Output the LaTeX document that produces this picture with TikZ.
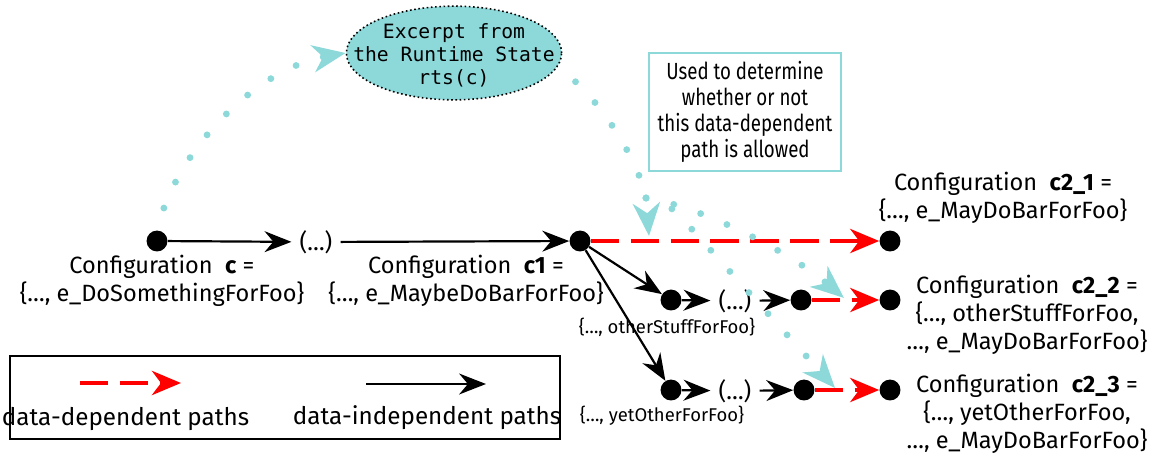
\documentclass[tikz,border=0pt]{standalone}
\usepackage{fontspec}
\setmainfont{Fira Sans}
\newfontfamily\monofont{DejaVu Sans Mono}
\newfontfamily\condfont[FakeStretch=0.8]{Fira Sans}
\usetikzlibrary{arrows.meta,shapes.geometric}
\definecolor{tealc}{RGB}{141,217,218}
\begin{document}
\begin{tikzpicture}[x=0.02cm,y=-0.02cm,
  dotnode/.style={circle,fill=black,inner sep=0pt,minimum size=11.9pt},
  midtext/.style={inner sep=4.5pt,font=\fontsize{13.4pt}{15.9pt}\selectfont},
  lbl/.style={align=center,inner sep=0pt,font=\fontsize{13.4pt}{15.9pt}\selectfont},
  smalllbl/.style={inner sep=0pt,font=\fontsize{10.5pt}{12pt}\selectfont},
  blk/.style={line width=1.25pt,-{Stealth[length=15.3pt,width=11.9pt,inset=5pt]}},
  reddash/.style={red,line width=2.83pt,dash pattern=on 16.2pt off 6.5pt,
    -{Stealth[length=16.4pt,width=13.6pt,inset=5pt]}},
  cyandots/.style={tealc,line width=3.9pt,line cap=round,dash pattern=on 0pt off 16.2pt},
  cyantip/.style={-{Stealth[length=18.7pt,width=15.3pt,inset=5.7pt,line cap=butt]}},
]
\useasboundingbox (0,0) rectangle (1158,456);

% legend
\node[draw,line width=1.1pt,minimum width=313.4pt,minimum height=47pt,inner sep=0pt] (legend) at (285,397.5) {};
\coordinate (lr1) at (80,383);
\coordinate (lr2) at (181,383);
\draw[reddash] (lr1) -- (lr2);
\coordinate (lb1) at (366,384);
\coordinate (lb2) at (486,384);
\draw[blk] (lb1) -- (lb2);
\node[lbl,font=\fontsize{13.8pt}{15.9pt}\selectfont] (ldd) at (125.5,419) {data-dependent paths};
\node[lbl,font=\fontsize{13.8pt}{15.9pt}\selectfont] (ldi) at (427,418) {data-independent paths};

% main nodes
\node[dotnode] (c) at (157,241) {};
\node[midtext] (m1) at (316,242) {(…)};
\node[dotnode] (c1) at (580,241) {};
\node[dotnode] (c21) at (890,241) {};
\node[dotnode] (b2a) at (671,300) {};
\node[midtext] (b2m) at (735,301) {(…)};
\node[dotnode] (b2b) at (801,300) {};
\node[dotnode] (c22) at (890,300) {};
\node[dotnode] (b3a) at (671,390) {};
\node[midtext] (b3m) at (735,391) {(…)};
\node[dotnode] (b3b) at (804,390) {};
\node[dotnode] (c23) at (890,390) {};

% labels
\node[lbl] (lc) at (162,281) {Configuration\ \ \textbf{c} =\\\{…, e\_DoSomethingForFoo\}};
\node[lbl] (lc1) at (466,281) {Configuration\ \ \textbf{c1} =\\\{…, e\_MaybeDoBarForFoo\}};
\node[lbl] (lc21) at (1003,198) {Configuration\ \ \textbf{c2\_1} =\\\{…, e\_MayDoBarForFoo\}};
\node[lbl] (lc22) at (1027,315) {Configuration\ \ \textbf{c2\_2} =\\\{…, otherStuffForFoo,\\…, e\_MayDoBarForFoo\}};
\node[lbl] (lc23) at (1027,414) {Configuration\ \ \textbf{c2\_3} =\\\{…, yetOtherForFoo,\\…, e\_MayDoBarForFoo\}};
\node[smalllbl] (s2) at (667,327) {\{…, otherStuffForFoo\}};
\node[smalllbl] (s3) at (662,416) {\{…, yetOtherForFoo\}};

% black connectors
\draw[blk] (c) -- (m1);
\draw[blk] (m1) -- (c1);
\draw[blk] (c1) -- (b2a);
\draw[blk] (c1) -- (b3a);
\draw[blk] (b2a) -- (b2m);
\draw[blk] (b2m) -- (b2b);
\draw[blk] (b3a) -- (b3m);
\draw[blk] (b3m) -- (b3b);

% red connectors
\draw[reddash] (c1) -- (c21);
\draw[reddash] (b2b) -- (c22);
\draw[reddash] (b3b) -- (c23);

% note box
\node[draw=tealc,line width=1.13pt,minimum width=108.8pt,minimum height=66.9pt,align=center,inner sep=0pt,
  font=\condfont\fontsize{13.3pt}{14.9pt}\selectfont] (note) at (745,112)
  {Used to determine\\whether or not\\this data-dependent\\path is allowed};

% ellipse
\node[ellipse,fill=tealc,draw=black,line width=0.9pt,dash pattern=on 0.9pt off 1.5pt,
  minimum width=122.5pt,minimum height=53.3pt,inner sep=0pt] (ell) at (454,53) {};
\node[align=center,inner sep=0pt,font=\monofont\fontsize{11.2pt}{13pt}\selectfont] (elltext) at (454,55)
  {Excerpt from\\the Runtime State\\rts(c)};

% cyan dotted connectors
\coordinate (fork) at (646,198);
\coordinate (tipA) at (649,236);
\coordinate (tipB) at (835,388);
\coordinate (tipC) at (844,298);
\draw[cyandots,dash phase=3pt,cyantip] (c.north) .. controls (178,145) and (260,68) .. (ell.west);
\draw[cyandots,dash phase=3pt] (ell.-8) .. controls (595,91) and (638,158) .. (fork);
\draw[cyandots,cyantip] (fork) -- (tipA);
\draw[cyandots,cyantip] (fork) .. controls (664,200) and (675,210) .. (688,225) -- (tipB);
\draw[cyandots,cyantip] (fork) .. controls (700,206) and (790,252) .. (tipC);
\end{tikzpicture}
\end{document}
